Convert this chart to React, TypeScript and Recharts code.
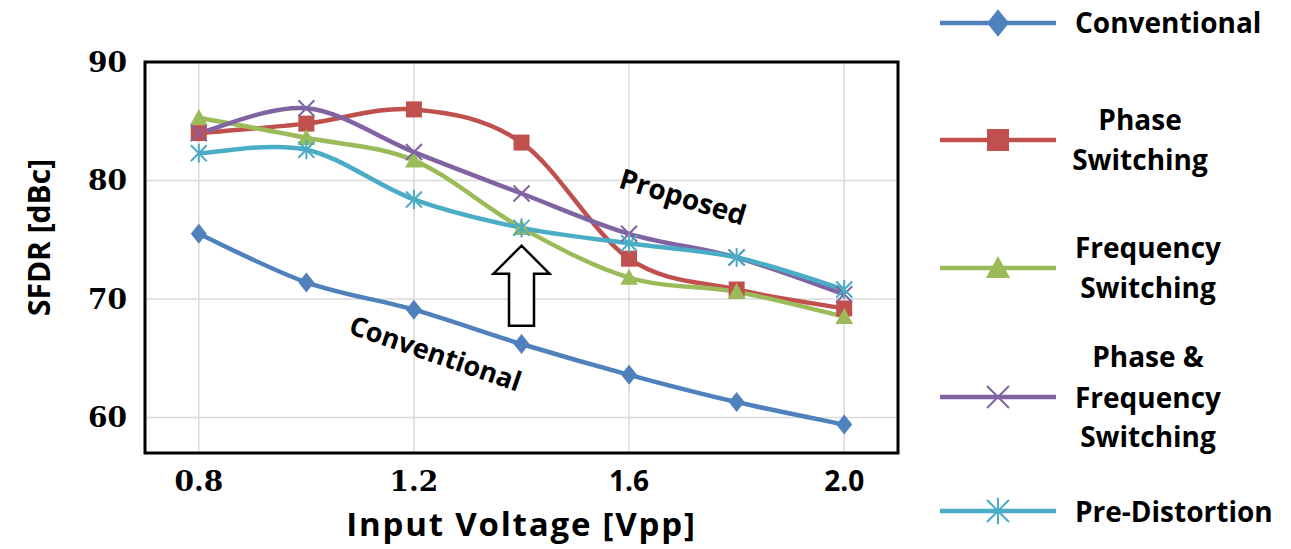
import React from "react";
import {
  LineChart,
  Line,
  XAxis,
  YAxis,
  CartesianGrid,
  Legend,
  ReferenceArea,
  ReferenceDot,
} from "recharts";

// input voltage [Vpp]
const voltages = [0.8, 1.0, 1.2, 1.4, 1.6, 1.8, 2.0];

// SFDR [dBc] per method
const conventional = [75.5, 71.4, 69.1, 66.2, 63.6, 61.3, 59.4];
const phaseSwitching = [84.0, 84.8, 86.0, 83.2, 73.4, 70.8, 69.2];
const frequencySwitching = [85.3, 83.6, 81.7, 76.0, 71.8, 70.6, 68.5];
const phaseFrequencySwitching = [84.0, 86.1, 82.4, 78.9, 75.5, 73.5, 70.4];
const preDistortion = [82.3, 82.6, 78.4, 76.0, 74.7, 73.5, 70.8];

const xTicks = [0.8, 1.2, 1.6, 2.0];
const yTicks = [60, 70, 80, 90];

const data = voltages.map((v, i) => ({
  v,
  conventional: conventional[i],
  phase: phaseSwitching[i],
  freq: frequencySwitching[i],
  phaseFreq: phaseFrequencySwitching[i],
  preDist: preDistortion[i],
}));

type Marker = "diamond" | "square" | "triangle" | "cross" | "star";

const series: { key: string; name: string; color: string; marker: Marker; lines: string[] }[] = [
  { key: "conventional", name: "Conventional", color: "#4F81BD", marker: "diamond", lines: ["Conventional"] },
  { key: "phase", name: "Phase Switching", color: "#C0504D", marker: "square", lines: ["Phase", "Switching"] },
  { key: "freq", name: "Frequency Switching", color: "#9BBB59", marker: "triangle", lines: ["Frequency", "Switching"] },
  {
    key: "phaseFreq",
    name: "Phase & Frequency Switching",
    color: "#8064A2",
    marker: "cross",
    lines: ["Phase &", "Frequency", "Switching"],
  },
  { key: "preDist", name: "Pre-Distortion", color: "#4BACC6", marker: "star", lines: ["Pre-Distortion"] },
];

const SANS = "'Open Sans', Lato, sans-serif";
const SERIF = "'DejaVu Serif', serif";

// rough imitation of excel's smoothed line
const excelSmooth = (context: any) => {
  let pts: [number, number][] = [];
  return {
    areaStart() {},
    areaEnd() {},
    lineStart() {
      pts = [];
    },
    lineEnd() {
      if (!pts.length) return;
      context.moveTo(pts[0][0], pts[0][1]);
      const t = 1 / 6;
      for (let i = 0; i < pts.length - 1; i++) {
        const p0 = pts[i - 1] || pts[i];
        const p1 = pts[i];
        const p2 = pts[i + 1];
        const p3 = pts[i + 2] || p2;
        context.bezierCurveTo(
          p1[0] + (p2[0] - p0[0]) * t,
          p1[1] + (p2[1] - p0[1]) * t,
          p2[0] - (p3[0] - p1[0]) * t,
          p2[1] - (p3[1] - p1[1]) * t,
          p2[0],
          p2[1]
        );
      }
    },
    point(x: number, y: number) {
      pts.push([x, y]);
    },
  };
};

function drawMarker(marker: Marker, cx: number, cy: number, color: string, s: number, key?: any) {
  switch (marker) {
    case "diamond":
      return (
        <path key={key} d={`M${cx},${cy - s * 1.25}L${cx + s},${cy}L${cx},${cy + s * 1.25}L${cx - s},${cy}Z`} fill={color} />
      );
    case "square":
      return <rect key={key} x={cx - s} y={cy - s} width={s * 2} height={s * 2} fill={color} />;
    case "triangle":
      return (
        <path key={key} d={`M${cx},${cy - s * 1.1}L${cx + s * 1.1},${cy + s * 0.9}L${cx - s * 1.1},${cy + s * 0.9}Z`} fill={color} />
      );
    case "cross":
      return (
        <path
          key={key}
          d={`M${cx - s},${cy - s}L${cx + s},${cy + s}M${cx - s},${cy + s}L${cx + s},${cy - s}`}
          stroke={color}
          strokeWidth={2}
          fill="none"
        />
      );
    case "star":
      return (
        <path
          key={key}
          d={`M${cx - s},${cy - s}L${cx + s},${cy + s}M${cx - s},${cy + s}L${cx + s},${cy - s}M${cx},${cy - s * 1.2}L${cx},${cy + s * 1.2}`}
          stroke={color}
          strokeWidth={2}
          fill="none"
        />
      );
  }
}

const makeDot = (marker: Marker, color: string) => (props: any) => {
  const { cx, cy, index } = props;
  if (cx == null || cy == null) return <g key={index} />;
  return <g key={index}>{drawMarker(marker, cx, cy, color, 8)}</g>;
};

// 0.8 / 1.2 came out in a serif font in the original, 1.6 / 2.0 in sans
const XTick = (props: any) => {
  const { x, y, payload } = props;
  const serif = payload.value < 1.5;
  return (
    <text
      x={x}
      y={y}
      dy="0.71em"
      textAnchor="middle"
      fontFamily={serif ? SERIF : SANS}
      fontWeight="bold"
      fontSize={28}
      fill="#000"
    >
      {payload.value.toFixed(1)}
    </text>
  );
};

const legendRows: Record<string, { lineY: number; textY: number[]; cx: number | null }> = {
  conventional: { lineY: 23, textY: [23], cx: null },
  phase: { lineY: 140, textY: [120, 160], cx: 1140 },
  freq: { lineY: 268, textY: [248, 288], cx: 1148 },
  phaseFreq: { lineY: 397, textY: [357, 398, 437], cx: 1148 },
  preDist: { lineY: 511, textY: [512], cx: null },
};

const LegendBox = (props: any) => {
  const payload = props.payload || [];
  return (
    <svg width={1291} height={549} style={{ display: "block" }}>
      {payload.map((p: any) => {
        const s = series.find((d) => d.key === p.dataKey);
        if (!s) return null;
        const row = legendRows[s.key];
        return (
          <g key={s.key}>
            <line x1={940} x2={1056} y1={row.lineY} y2={row.lineY} stroke={s.color} strokeWidth={4.5} />
            {drawMarker(s.marker, 998, row.lineY, s.color, 11)}
            {s.lines.map((t, i) => (
              <text
                key={t + i}
                x={row.cx == null ? 1075 : row.cx}
                y={row.textY[i]}
                dy="0.36em"
                textAnchor={row.cx == null ? "start" : "middle"}
                fontFamily={SANS}
                fontWeight="bold"
                fontSize={28}
                fill="#000"
              >
                {t}
              </text>
            ))}
          </g>
        );
      })}
    </svg>
  );
};

const Arrow = (props: any) => {
  const { cx, cy } = props;
  if (cx == null || cy == null) return <g />;
  const d = `M${cx},${cy}L${cx + 28},${cy + 28}L${cx + 12.5},${cy + 28}L${cx + 12.5},${cy + 80}L${cx - 12.5},${cy + 80}L${cx - 12.5},${cy + 28}L${cx - 28},${cy + 28}Z`;
  return <path d={d} fill="#fff" stroke="#000" strokeWidth={2.5} />;
};

const rotatedText = (text: string, angle: number, size: number) => (props: any) => {
  const { cx, cy } = props;
  if (cx == null || cy == null) return <g />;
  return (
    <text
      x={cx}
      y={cy}
      dy="0.35em"
      textAnchor="middle"
      transform={`rotate(${angle}, ${cx}, ${cy})`}
      fontFamily={SANS}
      fontWeight="bold"
      fontSize={size}
      fill="#000"
    >
      {text}
    </text>
  );
};

export default function App() {
  return (
    <div style={{ position: "absolute", left: 0, top: 0, width: 1291, height: 549, background: "#fff" }}>
      <LineChart width={1291} height={549} data={data} margin={{ top: 62, right: 393, bottom: 46, left: 65 }}>
        <CartesianGrid stroke="#d9d9d9" strokeWidth={1.5} />
        <XAxis
          dataKey="v"
          type="number"
          domain={[0.7, 2.1]}
          ticks={xTicks}
          height={50}
          tickLine={false}
          axisLine={false}
          tickSize={0}
          tickMargin={18}
          tick={<XTick />}
          label={{
            value: "Input Voltage [Vpp]",
            position: "insideBottom",
            offset: -33,
            fontFamily: SANS,
            fontWeight: "bold",
            fontSize: 33,
            letterSpacing: 1.8,
            fill: "#000",
          }}
        />
        <YAxis
          type="number"
          domain={[57, 90]}
          ticks={yTicks}
          width={80}
          tickLine={false}
          axisLine={false}
          tickSize={0}
          tickMargin={18}
          tick={{ fontFamily: SERIF, fontWeight: "bold", fontSize: 28, fill: "#000" }}
          label={{
            value: "SFDR [dBc]",
            angle: -90,
            position: "center",
            dx: -66,
            dy: -20,
            fontFamily: SANS,
            fontWeight: "bold",
            fontSize: 30,
            fill: "#000",
          }}
        />
        <ReferenceArea x1={0.7} x2={2.1} y1={57} y2={90} fill="none" stroke="#000" strokeWidth={3} />
        {series.map((s) => (
          <Line
            key={s.key}
            dataKey={s.key}
            name={s.name}
            type={excelSmooth as any}
            stroke={s.color}
            strokeWidth={4.5}
            dot={makeDot(s.marker, s.color)}
            activeDot={false}
            isAnimationActive={false}
          />
        ))}
        <ReferenceDot x={1.4} y={74.5} r={0} shape={<Arrow />} />
        <ReferenceDot x={1.7} y={78.6} r={0} shape={rotatedText("Proposed", 17, 28)} />
        <ReferenceDot x={1.24} y={65.4} r={0} shape={rotatedText("Conventional", 19, 27)} />
        <Legend
          layout="vertical"
          align="center"
          verticalAlign="middle"
          content={<LegendBox />}
          wrapperStyle={{ position: "absolute", left: 0, top: 0, width: 1291, height: 549, pointerEvents: "none" }}
        />
      </LineChart>
    </div>
  );
}
